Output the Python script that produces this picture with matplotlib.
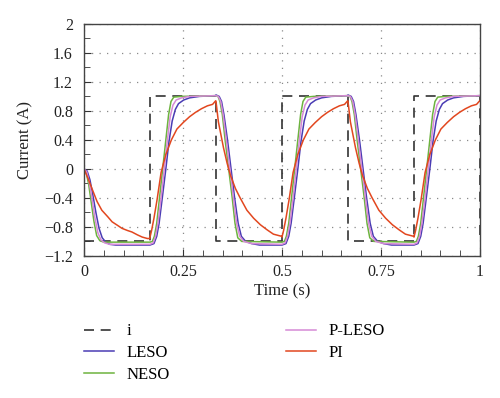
import matplotlib
matplotlib.use("Agg")
import matplotlib.pyplot as plt
from matplotlib.ticker import MultipleLocator
import numpy as np

plt.rcParams['font.family'] = ['Liberation Serif', 'DejaVu Serif']

# reference current i (square wave)
ref_t = [0, 1/6, 1/6, 1/3, 1/3, 1/2, 1/2, 2/3, 2/3, 5/6, 5/6, 1, 1]
ref_v = [-1, -1, 1, 1, -1, -1, 1, 1, -1, -1, 1, 1, -1]

# switching instants
rise_times = [1/6, 1/2, 5/6]
fall_times = [1/3, 2/3]

# start-up part, 0 .. 1/6 s
leso_start_t = [0, 0.008, 0.015, 0.022, 0.03, 0.038, 0.046, 0.055, 0.065, 0.08, 0.166]
leso_start_v = [0, -0.03, -0.15, -0.35, -0.6, -0.82, -0.95, -1.01, -1.04, -1.05, -1.05]
neso_start_t = [0, 0.006, 0.012, 0.018, 0.025, 0.032, 0.04, 0.05, 0.166]
neso_start_v = [0, -0.06, -0.22, -0.45, -0.72, -0.92, -0.99, -1.01, -1.01]
pleso_start_t = [0, 0.007, 0.013, 0.02, 0.027, 0.035, 0.043, 0.052, 0.065, 0.166]
pleso_start_v = [0, -0.04, -0.18, -0.4, -0.66, -0.88, -0.98, -1.02, -1.04, -1.04]
pi_start_t = [0, 0.01, 0.02, 0.033, 0.045, 0.06, 0.071, 0.085, 0.096, 0.11, 0.121, 0.135, 0.147, 0.16, 0.166]
pi_start_v = [0, -0.13, -0.27, -0.45, -0.57, -0.66, -0.73, -0.78, -0.82, -0.85, -0.87, -0.91, -0.94, -0.96, -0.96]

# response after a rising edge (time since edge, value)
leso_rise_t = [0, 0.01, 0.017, 0.023, 0.031, 0.04, 0.048, 0.056, 0.064, 0.072, 0.085, 0.1, 0.125, 0.166]
leso_rise_v = [-1.05, -1.03, -0.93, -0.75, -0.4, 0.0, 0.38, 0.66, 0.82, 0.9, 0.95, 0.98, 1.0, 1.01]
neso_rise_t = [0, 0.006, 0.011, 0.017, 0.024, 0.032, 0.04, 0.047, 0.053, 0.06, 0.08, 0.166]
neso_rise_v = [-1.01, -1.0, -0.93, -0.75, -0.4, 0.0, 0.4, 0.75, 0.93, 0.99, 1.0, 1.01]
pleso_rise_t = [0, 0.008, 0.014, 0.02, 0.028, 0.036, 0.044, 0.051, 0.058, 0.066, 0.08, 0.1, 0.166]
pleso_rise_v = [-1.04, -1.02, -0.93, -0.75, -0.4, 0.0, 0.4, 0.72, 0.88, 0.95, 0.98, 1.0, 1.01]
pi_rise_t = [0, 0.004, 0.01, 0.018, 0.028, 0.04, 0.054, 0.068, 0.084, 0.1, 0.115, 0.13, 0.145, 0.158, 0.166]
pi_rise_v = [-0.94, -0.85, -0.68, -0.42, -0.05, 0.2, 0.4, 0.55, 0.64, 0.72, 0.78, 0.83, 0.87, 0.89, 0.94]

# response after a falling edge
leso_fall_t = [0, 0.008, 0.014, 0.02, 0.029, 0.038, 0.047, 0.056, 0.064, 0.075, 0.09, 0.11, 0.166]
leso_fall_v = [1.02, 1.0, 0.93, 0.75, 0.4, 0.0, -0.4, -0.75, -0.93, -1.0, -1.03, -1.05, -1.05]
neso_fall_t = [0, 0.005, 0.01, 0.016, 0.023, 0.032, 0.041, 0.048, 0.055, 0.065, 0.166]
neso_fall_v = [1.01, 1.0, 0.93, 0.75, 0.4, 0.0, -0.4, -0.75, -0.95, -1.0, -1.01]
pleso_fall_t = [0, 0.006, 0.012, 0.018, 0.026, 0.035, 0.044, 0.052, 0.06, 0.07, 0.09, 0.166]
pleso_fall_v = [1.01, 1.0, 0.93, 0.75, 0.4, 0.0, -0.4, -0.75, -0.93, -1.0, -1.03, -1.04]
pi_fall_t = [0, 0.006, 0.019, 0.028, 0.036, 0.049, 0.061, 0.078, 0.095, 0.112, 0.129, 0.145, 0.166]
pi_fall_v = [0.93, 0.65, 0.29, 0.08, -0.08, -0.27, -0.4, -0.57, -0.68, -0.77, -0.84, -0.9, -0.93]


def build(start_t, start_v, rise_t, rise_v, fall_t, fall_v):
    t = list(start_t)
    v = list(start_v)
    edges = sorted([(ts, 'r') for ts in rise_times] + [(ts, 'f') for ts in fall_times])
    for ts, kind in edges:
        tt, vv = (rise_t, rise_v) if kind == 'r' else (fall_t, fall_v)
        t += [ts + x for x in tt]
        v += list(vv)
    return np.array(t), np.array(v)


fig = plt.figure(figsize=(5.0, 3.98), dpi=100)
ax = fig.add_axes([0.168, 0.357, 0.792, 0.583])

ax.plot(ref_t, ref_v, color='#333333', lw=1.2, ls=(0, (6, 4)), label='i')
t, v = build(leso_start_t, leso_start_v, leso_rise_t, leso_rise_v, leso_fall_t, leso_fall_v)
ax.plot(t, v, color='#4a3cb4', lw=1.1, label='LESO')
t, v = build(neso_start_t, neso_start_v, neso_rise_t, neso_rise_v, neso_fall_t, neso_fall_v)
ax.plot(t, v, color='#6db33f', lw=1.1, label='NESO')
t, v = build(pleso_start_t, pleso_start_v, pleso_rise_t, pleso_rise_v, pleso_fall_t, pleso_fall_v)
ax.plot(t, v, color='#d68ad6', lw=1.1, label='P-LESO')
t, v = build(pi_start_t, pi_start_v, pi_rise_t, pi_rise_v, pi_fall_t, pi_fall_v)
ax.plot(t, v, color='#e2471f', lw=1.1, label='PI')

ax.set_xlim(0, 1)
ax.set_ylim(-1.2, 2)
ax.set_xticks([0, 0.25, 0.5, 0.75, 1])
ax.set_xticklabels(['0', '0.25', '0.5', '0.75', '1'])
ax.set_yticks(np.arange(-1.2, 2.01, 0.4))
ax.set_yticklabels(['\u22121.2', '\u22120.8', '\u22120.4', '0', '0.4', '0.8', '1.2', '1.6', '2'])
ax.xaxis.set_minor_locator(MultipleLocator(0.05))
ax.yaxis.set_minor_locator(MultipleLocator(0.2))
ax.tick_params(which='both', direction='in', top=False, right=False,
               labelsize=11.5, colors='#333333', labelcolor='#222222')
ax.tick_params(which='major', length=5)
ax.tick_params(which='minor', length=4)
ax.tick_params(axis='x', pad=6)
ax.tick_params(axis='y', pad=8)
ax.grid(True, which='major', color='#8a8a8a', ls=(0, (1, 5)), lw=0.9)
for s in ax.spines.values():
    s.set_color('#444444')
    s.set_linewidth(1.0)

ax.set_xlabel('Time (s)', fontsize=12, color='#222222', labelpad=2)
ax.set_ylabel('Current (A)', fontsize=12, color='#222222', labelpad=8)

handles, labels = ax.get_legend_handles_labels()
fig.legend(handles, labels, ncol=2, loc='upper left', bbox_to_anchor=(0.138, 0.225),
           frameon=False, fontsize=12, handlelength=1.8, columnspacing=7.0,
           labelspacing=0.35, handletextpad=0.75)

fig.savefig('out.png', dpi=100)
